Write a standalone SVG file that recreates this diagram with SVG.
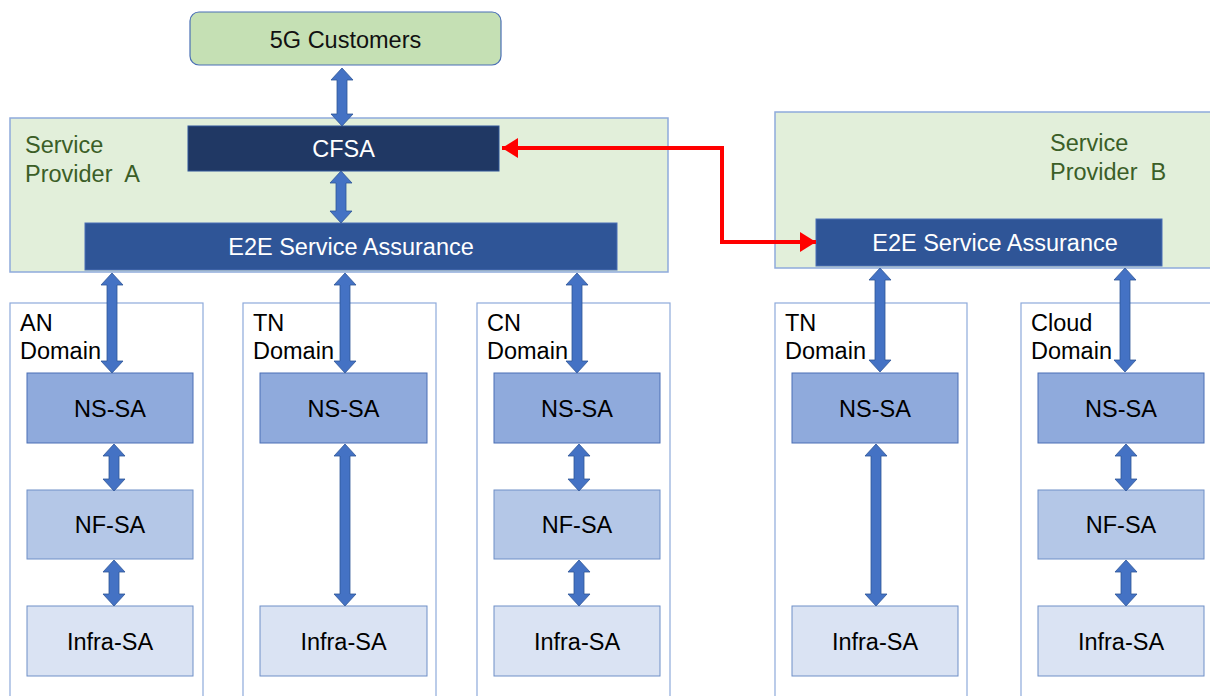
<svg xmlns="http://www.w3.org/2000/svg" width="1210" height="696" viewBox="0 0 1210 696">
<defs>
<style>
text{font-family:"Liberation Sans",Arial,sans-serif;font-size:23.5px;}
.c{text-anchor:middle;}
.prov{fill:#e2efda;stroke:#8eaadb;stroke-width:1.5;}
.prov-t{fill:#3b5e27;}
.dom{fill:#ffffff;stroke:#8eaadb;stroke-width:1.2;}
.ns{fill:#8faadc;stroke:#4a6fb5;stroke-width:1;}
.nf{fill:#b4c7e7;stroke:#6f8fc7;stroke-width:1;}
.inf{fill:#dae3f3;stroke:#6f8fc7;stroke-width:1;}
.arr{fill:#4472c4;stroke:#2f5597;stroke-width:0.8;}
.red{fill:none;stroke:#ff0000;stroke-width:4;}
</style>
<marker id="rh" markerUnits="userSpaceOnUse" markerWidth="18" markerHeight="20" refX="16" refY="10" orient="auto-start-reverse">
<path d="M0,0 L16,10 L0,20 Z" fill="#ff0000"/>
</marker>
</defs>
<rect width="1210" height="696" fill="#ffffff"/>

<g id="customers">
<rect x="190" y="12" width="311" height="53" rx="9" fill="#c5e0b4" stroke="#4a6fb5" stroke-width="1.2"/>
<text x="345.5" y="48" class="c" fill="#111">5G Customers</text>
</g>

<g id="providerA">
<rect x="10" y="118" width="658" height="154" class="prov"/>
<text x="25" y="153" class="prov-t">Service</text>
<text x="25" y="182" class="prov-t" xml:space="preserve">Provider  A</text>
</g>
<g id="cfsa">
<rect x="188" y="126" width="311" height="45" fill="#203864" stroke="#2f5597" stroke-width="1"/>
<text x="343.5" y="157" class="c" fill="#ffffff">CFSA</text>
</g>
<g id="e2eA">
<rect x="85" y="223" width="532" height="47" fill="#2f5597" stroke="#4a6fb5" stroke-width="1"/>
<text x="351" y="255" class="c" fill="#ffffff">E2E Service Assurance</text>
</g>

<g id="providerB">
<rect x="775" y="112" width="440" height="156" class="prov"/>
<text x="1050" y="151" class="prov-t">Service</text>
<text x="1050" y="180" class="prov-t" xml:space="preserve">Provider  B</text>
</g>
<g id="e2eB">
<rect x="816" y="219" width="346" height="47" fill="#2f5597" stroke="#4a6fb5" stroke-width="1"/>
<text x="995" y="251" class="c" fill="#ffffff">E2E Service Assurance</text>
</g>

<g id="domainAN">
<rect x="10" y="303" width="193" height="400" class="dom"/>
<text x="20" y="331">AN</text>
<text x="20" y="359">Domain</text>
</g>
<g id="domainTNA">
<rect x="243" y="303" width="193" height="400" class="dom"/>
<text x="253" y="331">TN</text>
<text x="253" y="359">Domain</text>
</g>
<g id="domainCN">
<rect x="477" y="303" width="193" height="400" class="dom"/>
<text x="487" y="331">CN</text>
<text x="487" y="359">Domain</text>
</g>
<g id="domainTNB">
<rect x="775" y="303" width="192" height="400" class="dom"/>
<text x="785" y="331">TN</text>
<text x="785" y="359">Domain</text>
</g>
<g id="domainCloud">
<rect x="1021" y="303" width="200" height="400" class="dom"/>
<text x="1031" y="331">Cloud</text>
<text x="1031" y="359">Domain</text>
</g>

<g id="an-ns"><rect x="27" y="373" width="166" height="70" class="ns"/><text x="110" y="417" class="c">NS-SA</text></g>
<g id="an-nf"><rect x="27" y="490" width="166" height="69" class="nf"/><text x="110" y="533" class="c">NF-SA</text></g>
<g id="an-infra"><rect x="27" y="606" width="166" height="70" class="inf"/><text x="110" y="650" class="c">Infra-SA</text></g>

<g id="tna-ns"><rect x="260" y="373" width="167" height="70" class="ns"/><text x="343.5" y="417" class="c">NS-SA</text></g>
<g id="tna-infra"><rect x="260" y="606" width="167" height="70" class="inf"/><text x="343.5" y="650" class="c">Infra-SA</text></g>

<g id="cn-ns"><rect x="494" y="373" width="166" height="70" class="ns"/><text x="577" y="417" class="c">NS-SA</text></g>
<g id="cn-nf"><rect x="494" y="490" width="166" height="69" class="nf"/><text x="577" y="533" class="c">NF-SA</text></g>
<g id="cn-infra"><rect x="494" y="606" width="166" height="70" class="inf"/><text x="577" y="650" class="c">Infra-SA</text></g>

<g id="tnb-ns"><rect x="792" y="373" width="166" height="70" class="ns"/><text x="875" y="417" class="c">NS-SA</text></g>
<g id="tnb-infra"><rect x="792" y="606" width="166" height="70" class="inf"/><text x="875" y="650" class="c">Infra-SA</text></g>

<g id="cloud-ns"><rect x="1038" y="373" width="166" height="70" class="ns"/><text x="1121" y="417" class="c">NS-SA</text></g>
<g id="cloud-nf"><rect x="1038" y="490" width="166" height="69" class="nf"/><text x="1121" y="533" class="c">NF-SA</text></g>
<g id="cloud-infra"><rect x="1038" y="606" width="166" height="70" class="inf"/><text x="1121" y="650" class="c">Infra-SA</text></g>

<g id="connectors">
<polygon class="arr" points="342,68 353,80 347,80 347,114 353,114 342,126 331,114 337,114 337,80 331,80"/>
<polygon class="arr" points="341,171 352,183 346,183 346,211 352,211 341,223 330,211 336,211 336,183 330,183"/>
<polygon class="arr" points="112,273 123,285 117,285 117,361 123,361 112,373 101,361 107,361 107,285 101,285"/>
<polygon class="arr" points="345,273 356,285 350,285 350,361 356,361 345,373 334,361 340,361 340,285 334,285"/>
<polygon class="arr" points="577,273 588,285 582,285 582,361 588,361 577,373 566,361 572,361 572,285 566,285"/>
<polygon class="arr" points="880,268 891,280 885,280 885,360 891,360 880,372 869,360 875,360 875,280 869,280"/>
<polygon class="arr" points="1125,268 1136,280 1130,280 1130,360 1136,360 1125,372 1114,360 1120,360 1120,280 1114,280"/>
<polygon class="arr" points="114,444 125,456 119,456 119,479 125,479 114,491 103,479 109,479 109,456 103,456"/>
<polygon class="arr" points="114,560 125,572 119,572 119,594 125,594 114,606 103,594 109,594 109,572 103,572"/>
<polygon class="arr" points="345,444 356,456 350,456 350,594 356,594 345,606 334,594 340,594 340,456 334,456"/>
<polygon class="arr" points="579,444 590,456 584,456 584,479 590,479 579,491 568,479 574,479 574,456 568,456"/>
<polygon class="arr" points="579,560 590,572 584,572 584,594 590,594 579,606 568,594 574,594 574,572 568,572"/>
<polygon class="arr" points="876,444 887,456 881,456 881,594 887,594 876,606 865,594 871,594 871,456 865,456"/>
<polygon class="arr" points="1126,444 1137,456 1131,456 1131,479 1137,479 1126,491 1115,479 1121,479 1121,456 1115,456"/>
<polygon class="arr" points="1126,560 1137,572 1131,572 1131,594 1137,594 1126,606 1115,594 1121,594 1121,572 1115,572"/>
<path class="red" d="M 502 148 H 722 V 242 H 816" marker-start="url(#rh)" marker-end="url(#rh)"/>
</g>
</svg>
